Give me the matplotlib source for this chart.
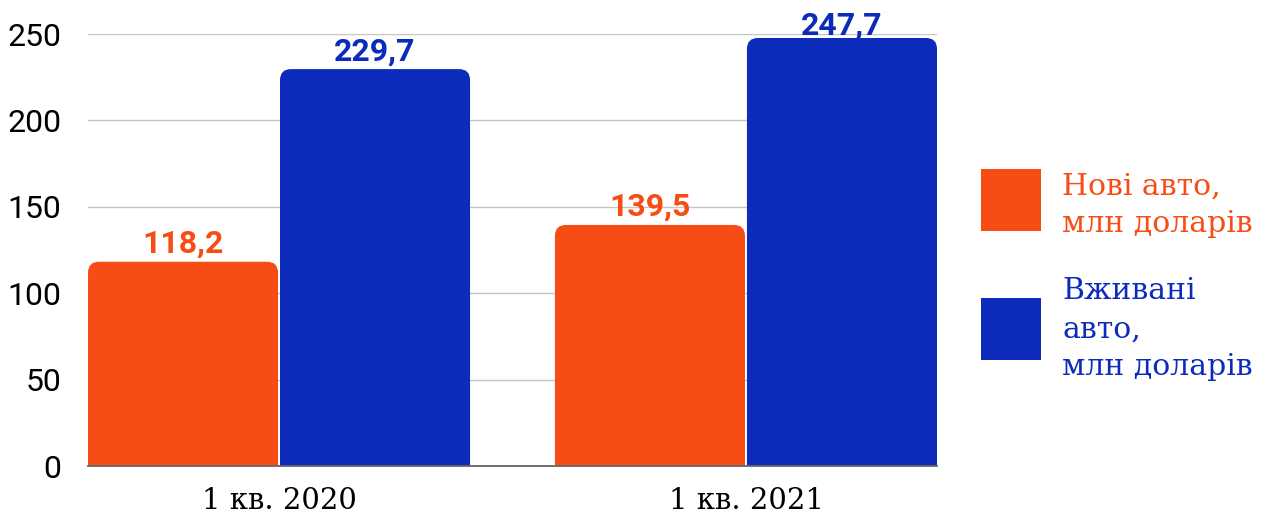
import matplotlib.pyplot as plt
from matplotlib.patches import FancyBboxPatch, Rectangle

# data
categories = ["1 кв. 2020", "1 кв. 2021"]
new_cars = [118.2, 139.5]
used_cars = [229.7, 247.7]
new_label = "Нові авто,\nмлн доларів"
used_label = "Вживані\nавто,\nмлн доларів"
y_ticks = [0, 50, 100, 150, 200, 250]

ORANGE = "#F74C13"
BLUE = "#0C2BBB"

W, H = 1278, 521
fig = plt.figure(figsize=(W / 100, H / 100), dpi=100)
ax = fig.add_axes([88 / W, (H - 466) / H, (937 - 88) / W, (466 - 33.5) / H])

bar_w = 0.407
shift = 0.2056
ax.set_xlim(-shift - bar_w / 2, len(categories) - 1 + shift + bar_w / 2)
ax.set_ylim(0, 250.3)

# pixels per data unit, used to keep corners circular
px_x = ax.transData.transform((1, 0))[0] - ax.transData.transform((0, 0))[0]
px_y = ax.transData.transform((0, 1))[1] - ax.transData.transform((0, 0))[1]
radius_px = 11
r = radius_px / px_x
aspect = px_x / px_y

def draw_bar(xc, value, color):
    patch = FancyBboxPatch((xc - bar_w / 2, -30), bar_w, value + 30,
                           boxstyle=f"round,pad=0,rounding_size={r}",
                           mutation_aspect=aspect, facecolor=color,
                           edgecolor="none", zorder=2)
    ax.add_patch(patch)
    # value label, kept inside the plotting area at the top
    ly = min(value + 9 / px_y, 250.3 - 1 / px_y)
    ax.text(xc, ly, f"{value:.1f}".replace(".", ","), ha="center", va="baseline",
            color=color, fontsize=23, fontweight="bold", family="Roboto",
            clip_on=False, zorder=4)

for i, cat in enumerate(categories):
    draw_bar(i - shift, new_cars[i], ORANGE)
    draw_bar(i + shift, used_cars[i], BLUE)

ax.axhline(0, color="#666666", lw=1.3, zorder=3, clip_on=False)

ax.set_yticks(y_ticks)
ax.set_yticklabels([str(t) for t in y_ticks], family="Roboto", fontsize=23)
ax.set_xticks(range(len(categories)))
ax.set_xticklabels(categories, family="DejaVu Serif", fontsize=21)
ax.tick_params(axis="y", length=0, pad=19)
ax.tick_params(axis="x", length=0, pad=15)
ax.yaxis.grid(True, color="#c6c6c6", lw=1)
ax.set_axisbelow(True)
for s in ax.spines.values():
    s.set_visible(False)

# legend drawn by hand (baseline = last line of each label)
fig.add_artist(Rectangle((981 / W, (H - 231) / H), 60 / W, 62 / H,
                         transform=fig.transFigure, facecolor=ORANGE, edgecolor="none"))
fig.add_artist(Rectangle((981 / W, (H - 360) / H), 60 / W, 62 / H,
                         transform=fig.transFigure, facecolor=BLUE, edgecolor="none"))
fig.text(1062 / W, (H - 232) / H, new_label, color=ORANGE, fontsize=21.5,
         family="DejaVu Serif", va="baseline", ha="left", linespacing=1.45)
fig.text(1062 / W, (H - 375) / H, used_label, color=BLUE, fontsize=21.5,
         family="DejaVu Serif", va="baseline", ha="left", linespacing=1.45)

fig.savefig("out.png", dpi=100)
